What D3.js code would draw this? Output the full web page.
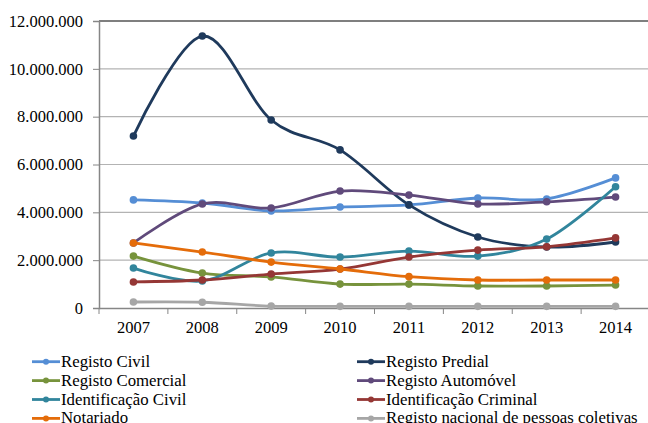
<!DOCTYPE html>
<html>
<head>
<meta charset="utf-8">
<script src="https://cdn.jsdelivr.net/npm/d3@7"></script>
<style>
  body { margin: 0; background: #fff; }
</style>
</head>
<body>
<div id="chart"></div>
<script>
// anos e valores
var years = ["2007", "2008", "2009", "2010", "2011", "2012", "2013", "2014"];

var registoCivil = [4520000, 4390000, 4060000, 4220000, 4310000, 4600000, 4560000, 5440000];
var registoPredial = [7190000, 11370000, 7860000, 6610000, 4310000, 2970000, 2550000, 2760000];
var registoComercial = [2170000, 1460000, 1300000, 1000000, 1000000, 920000, 920000, 960000];
var registoAutomovel = [2720000, 4350000, 4180000, 4890000, 4720000, 4350000, 4440000, 4640000];
var identCivil = [1670000, 1130000, 2300000, 2130000, 2380000, 2170000, 2880000, 5070000];
var identCriminal = [1090000, 1170000, 1420000, 1630000, 2130000, 2420000, 2560000, 2930000];
var notariado = [2720000, 2340000, 1920000, 1630000, 1310000, 1170000, 1170000, 1170000];
var rnpc = [250000, 240000, 80000, 70000, 70000, 70000, 70000, 70000];

var yTicks = [0, 2000000, 4000000, 6000000, 8000000, 10000000, 12000000];

var series = [
  { name: "Registo Civil", values: registoCivil, color: "#558ED5" },
  { name: "Registo Predial", values: registoPredial, color: "#1F3A5C" },
  { name: "Registo Comercial", values: registoComercial, color: "#77933C" },
  { name: "Registo Automóvel", values: registoAutomovel, color: "#604A7B" },
  { name: "Identificação Civil", values: identCivil, color: "#31859C" },
  { name: "Identificação Criminal", values: identCriminal, color: "#953735" },
  { name: "Notariado", values: notariado, color: "#E46C0A" },
  { name: "Registo nacional de pessoas coletivas", values: rnpc, color: "#A6A6A6" }
];

var FONT = "'Liberation Serif', 'DejaVu Serif', serif";

var W = 648, H = 423;
var margin = { top: 21, right: 0, bottom: 115, left: 99 };
var width = 650 - margin.left, height = H - margin.top - margin.bottom;

var svg = d3.select("#chart").append("svg")
    .attr("width", W)
    .attr("height", H);

var g = svg.append("g")
    .attr("transform", "translate(" + margin.left + "," + margin.top + ")");

var x = d3.scaleBand().domain(years).range([0, width]);
var y = d3.scaleLinear().domain([0, 12000000]).range([height, 0]);

var fmt = function(d) { return d3.format(",")(d).replace(/,/g, "."); };

// grelha
g.selectAll(".grid").data(yTicks.slice(1)).enter().append("line")
    .attr("x1", 0).attr("x2", W)
    .attr("y1", function(d) { return y(d); })
    .attr("y2", function(d) { return y(d); })
    .attr("stroke", function(d) { return d === 12000000 ? "#000" : "#b3b3b3"; })
    .attr("stroke-width", 1.2);

// eixo y
var yAxis = g.append("g")
    .call(d3.axisLeft(y).tickValues(yTicks).tickFormat(fmt).tickSize(6).tickPadding(10));
yAxis.select(".domain").attr("stroke", "#868686").attr("stroke-width", 1.5);
yAxis.selectAll(".tick line").attr("stroke", "#868686");
yAxis.selectAll("text").style("font-family", FONT).style("font-size", "16.5px").attr("fill", "#000");

// eixo x
var xAxis = g.append("g")
    .attr("transform", "translate(0," + height + ")")
    .call(d3.axisBottom(x).tickSize(0).tickPadding(13));
xAxis.select(".domain").attr("stroke", "#868686").attr("stroke-width", 1.5);
xAxis.selectAll("text").style("font-family", FONT).style("font-size", "16.5px").attr("fill", "#000");
g.selectAll(".xtick").data(years).enter().append("line")
    .attr("x1", function(d) { return x(d); })
    .attr("x2", function(d) { return x(d); })
    .attr("y1", height).attr("y2", height + 6)
    .attr("stroke", "#868686");
g.append("line")
    .attr("x1", width).attr("x2", width)
    .attr("y1", height).attr("y2", height + 6)
    .attr("stroke", "#868686");

var line = d3.line()
    .x(function(d, i) { return x(years[i]) + x.bandwidth() / 2; })
    .y(function(d) { return y(d); })
    .curve(d3.curveCardinal.tension(0));

series.forEach(function(s) {
  g.append("path")
      .datum(s.values)
      .attr("d", line)
      .attr("fill", "none")
      .attr("stroke", s.color)
      .attr("stroke-width", 2.8);
  g.selectAll(null).data(s.values).enter().append("circle")
      .attr("cx", function(d, i) { return x(years[i]) + x.bandwidth() / 2; })
      .attr("cy", function(d) { return y(d); })
      .attr("r", 3.8)
      .attr("fill", s.color);
});

// legenda
var legend = svg.append("g");
series.forEach(function(s, i) {
  var col = i % 2, row = Math.floor(i / 2);
  var lx = col === 0 ? 32 : 357;
  var ly = 361.7 + row * 18.9;
  legend.append("line")
      .attr("x1", lx).attr("x2", lx + 28)
      .attr("y1", ly).attr("y2", ly)
      .attr("stroke", s.color).attr("stroke-width", 2.8);
  legend.append("circle")
      .attr("cx", lx + 14).attr("cy", ly).attr("r", 3)
      .attr("fill", s.color);
  legend.append("text")
      .attr("x", lx + 29).attr("y", ly + 5)
      .style("font-family", FONT)
      .style("font-size", "16.8px")
      .text(s.name);
});
</script>
</body>
</html>
